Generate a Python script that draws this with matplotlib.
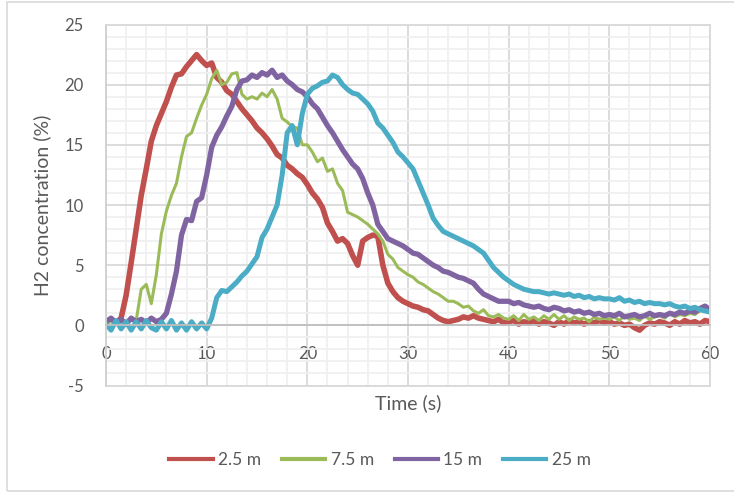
import matplotlib.pyplot as plt
import numpy as np
from matplotlib.patches import Rectangle
from matplotlib.ticker import MultipleLocator

# temps (s), pas de 0.5 s
t = np.arange(0, 60.5, 0.5)

# concentrations H2 (%)
h2_2p5 = [
    0.3, 0.5, 0.2, 0.6, 2.5, 5.2, 8.0, 10.8, 13.0, 15.3,
    16.6, 17.6, 18.6, 19.8, 20.8, 20.9, 21.5, 22.0, 22.5, 22.0,
    21.6, 21.8, 20.6, 20.2, 19.5, 19.2, 18.6, 18.0, 17.5, 17.0,
    16.4, 16.0, 15.5, 14.9, 14.2, 13.9, 13.3, 13.0, 12.6, 12.3,
    11.7, 11.0, 10.5, 9.8, 8.5, 7.8, 7.0, 7.2, 6.8, 5.8,
    5.0, 7.0, 7.3, 7.5, 7.4, 5.0, 3.5, 2.8, 2.3, 2.0,
    1.8, 1.6, 1.5, 1.3, 1.2, 0.9, 0.6, 0.4, 0.3, 0.4,
    0.5, 0.7, 0.6, 0.8, 0.6, 0.5, 0.4, 0.3, 0.5, 0.2,
    0.3, 0.4, 0.1, 0.3, 0.2, 0.4, 0.1, 0.3, 0.2, 0.0,
    0.3, 0.1, 0.4, 0.2, 0.3, 0.1, 0.3, 0.2, 0.4, 0.2,
    0.3, 0.1, 0.2, 0.0, 0.1, -0.2, -0.4, 0.0, 0.2, 0.1,
    0.3, 0.2, 0.0, 0.3, 0.1, 0.4, 0.2, 0.3, 0.1, 0.4,
    0.3,
]
h2_7p5 = [
    0.2, 0.3, 0.1, 0.3, 0.2, 0.4, 0.4, 3.0, 3.4, 1.8,
    4.2, 7.6, 9.5, 10.8, 11.8, 14.0, 15.7, 16.0, 17.2, 18.3,
    19.2, 20.5, 21.2, 20.0, 20.2, 20.9, 21.0, 19.2, 18.8, 19.0,
    18.8, 19.3, 19.0, 19.6, 18.8, 17.2, 16.9, 16.5, 16.4, 15.0,
    15.0, 14.4, 13.6, 13.9, 12.8, 13.0, 11.8, 11.2, 9.4, 9.2,
    9.0, 8.7, 8.4, 8.0, 7.6, 7.0, 5.9, 5.5, 4.8, 4.5,
    4.2, 4.0, 3.6, 3.4, 3.1, 2.8, 2.6, 2.3, 2.0, 2.0,
    1.8, 1.5, 1.6, 1.2, 1.0, 1.3, 0.8, 0.7, 0.9, 0.6,
    0.5, 0.8, 0.4, 0.9, 0.5, 0.7, 0.4, 0.8, 0.5, 0.9,
    0.5, 0.8, 0.4, 0.7, 0.5, 0.6, 0.3, 0.7, 0.5, 0.6,
    0.5, 0.7, 0.4, 0.8, 0.5, 0.6, 0.4, 0.8, 0.5, 0.7,
    0.8, 0.6, 1.0, 0.7, 0.9, 0.8, 1.0, 0.9, 1.2, 1.5,
    1.2,
]
h2_15 = [
    0.3, 0.6, 0.2, 0.5, 0.1, 0.6, 0.3, 0.5, 0.2, 0.6,
    0.3, 0.5, 1.0, 2.6, 4.5, 7.5, 8.8, 8.7, 10.3, 10.6,
    12.5, 14.8, 15.8, 16.5, 17.4, 18.2, 19.6, 20.3, 20.4, 20.8,
    20.6, 21.0, 20.8, 21.2, 20.6, 20.8, 20.3, 20.0, 19.6, 19.4,
    19.0, 18.4, 18.0, 17.3, 16.6, 16.0, 15.3, 14.6, 14.0, 13.4,
    13.0, 12.2, 11.0, 10.0, 8.4, 7.8, 7.2, 7.0, 6.8, 6.6,
    6.3, 6.0, 5.9, 5.6, 5.3, 5.0, 4.8, 4.5, 4.4, 4.2,
    4.0, 3.9, 3.7, 3.5, 3.0, 2.6, 2.4, 2.2, 2.0, 2.0,
    2.0, 1.8, 1.9, 1.7, 1.6, 1.5, 1.6, 1.4, 1.3, 1.5,
    1.4, 1.2, 1.3, 1.1, 1.2, 1.0, 1.1, 0.9, 1.0, 0.8,
    0.9, 0.8, 1.0, 0.7, 0.8, 0.9, 0.7, 0.8, 1.0, 0.8,
    0.9, 0.8, 1.0, 0.9, 1.1, 1.0, 1.2, 1.1, 1.4, 1.6,
    1.3,
]
h2_25 = [
    0.1, -0.4, 0.4, -0.3, 0.3, -0.4, 0.3, -0.3, 0.4, -0.2,
    -0.4, 0.3, -0.3, 0.4, -0.4, 0.2, -0.4, 0.3, -0.3, 0.2,
    -0.3, 0.6, 2.3, 2.9, 2.8, 3.2, 3.6, 4.1, 4.5, 5.1,
    5.7, 7.3, 8.0, 9.0, 10.0, 12.5, 16.0, 16.6, 15.0, 17.6,
    19.2, 19.7, 19.9, 20.2, 20.3, 20.8, 20.6, 20.0, 19.6, 19.3,
    19.2, 18.8, 18.4, 17.8, 16.8, 16.4, 15.8, 15.2, 14.4, 14.0,
    13.5, 13.0, 12.0, 11.0, 10.0, 8.9, 8.3, 7.8, 7.6, 7.4,
    7.2, 7.0, 6.8, 6.6, 6.3, 6.0, 5.4, 4.8, 4.4, 4.0,
    3.7, 3.4, 3.2, 3.0, 2.9, 2.8, 2.8, 2.7, 2.6, 2.7,
    2.6, 2.5, 2.6, 2.4, 2.5, 2.3, 2.4, 2.2, 2.3, 2.2,
    2.2, 2.1, 2.3, 2.0, 2.1, 1.9, 2.0, 1.8, 1.9, 1.8,
    1.8, 1.7, 1.8, 1.6, 1.5, 1.6, 1.4, 1.5, 1.3, 1.2,
    1.1,
]

series = [
    ("2.5 m", h2_2p5, "#C0504D", 4.0),
    ("7.5 m", h2_7p5, "#9BBB59", 2.2),
    ("15 m", h2_15, "#8064A2", 3.8),
    ("25 m", h2_25, "#4BACC6", 3.6),
]

plt.rcParams["font.family"] = ["Lato", "DejaVu Sans"]
plt.rcParams["axes.unicode_minus"] = False
TXT = "#595959"

fig = plt.figure(figsize=(7.34, 4.92), dpi=100)
ax = fig.add_axes([106 / 734, 1 - 385.5 / 492, 604 / 734, 361 / 492])

# cadre exterieur du graphique (Excel)
fig.patches.append(Rectangle((7 / 734, 0.002), 1.0, 0.994, transform=fig.transFigure,
                             fill=False, edgecolor="#D9D9D9", linewidth=1.2))

for name, vals, color, lw in series:
    ax.plot(t, vals, color=color, linewidth=lw, label=name, solid_joinstyle="round")

ax.set_xlim(0, 60)
ax.set_ylim(-5, 25)
ax.xaxis.set_major_locator(MultipleLocator(10))
ax.xaxis.set_minor_locator(MultipleLocator(2))
ax.yaxis.set_major_locator(MultipleLocator(5))
ax.yaxis.set_minor_locator(MultipleLocator(1))
ax.grid(which="minor", color="#F0F0F0", linewidth=1.3)
ax.grid(which="major", color="#D9D9D9", linewidth=1.3)
ax.set_axisbelow(True)

for side in ["top", "right"]:
    ax.spines[side].set_color("#D9D9D9")
    ax.spines[side].set_linewidth(1.3)
ax.spines["left"].set_color("#D0D0D0")
ax.spines["left"].set_linewidth(1.3)
ax.spines["bottom"].set_position(("data", 0))
ax.spines["bottom"].set_color("#BFBFBF")
ax.spines["bottom"].set_linewidth(1.3)
ax.tick_params(which="both", length=0, colors=TXT, labelsize=12)
ax.tick_params(axis="x", pad=15)
ax.tick_params(axis="y", pad=16)
# ligne du bas de la zone de trace
ax.axhline(-5, color="#D9D9D9", linewidth=1.3, clip_on=False)

ax.set_ylabel("H2 concentration (%)", fontsize=14, color=TXT)
ax.yaxis.set_label_coords(-55 / 604, 0.5)
fig.text(408 / 734, 1 - 403 / 492, "Time (s)", fontsize=14, color=TXT, ha="center", va="center")

leg = fig.legend(loc="center", bbox_to_anchor=(380 / 734, 1 - 460 / 492), ncol=4, frameon=False,
                 fontsize=12.5, handlelength=2.5, handletextpad=0.3, columnspacing=1.2)
for txt in leg.get_texts():
    txt.set_color(TXT)
for line in leg.get_lines():
    line.set_linewidth(3)

fig.savefig("out.png", dpi=100)
